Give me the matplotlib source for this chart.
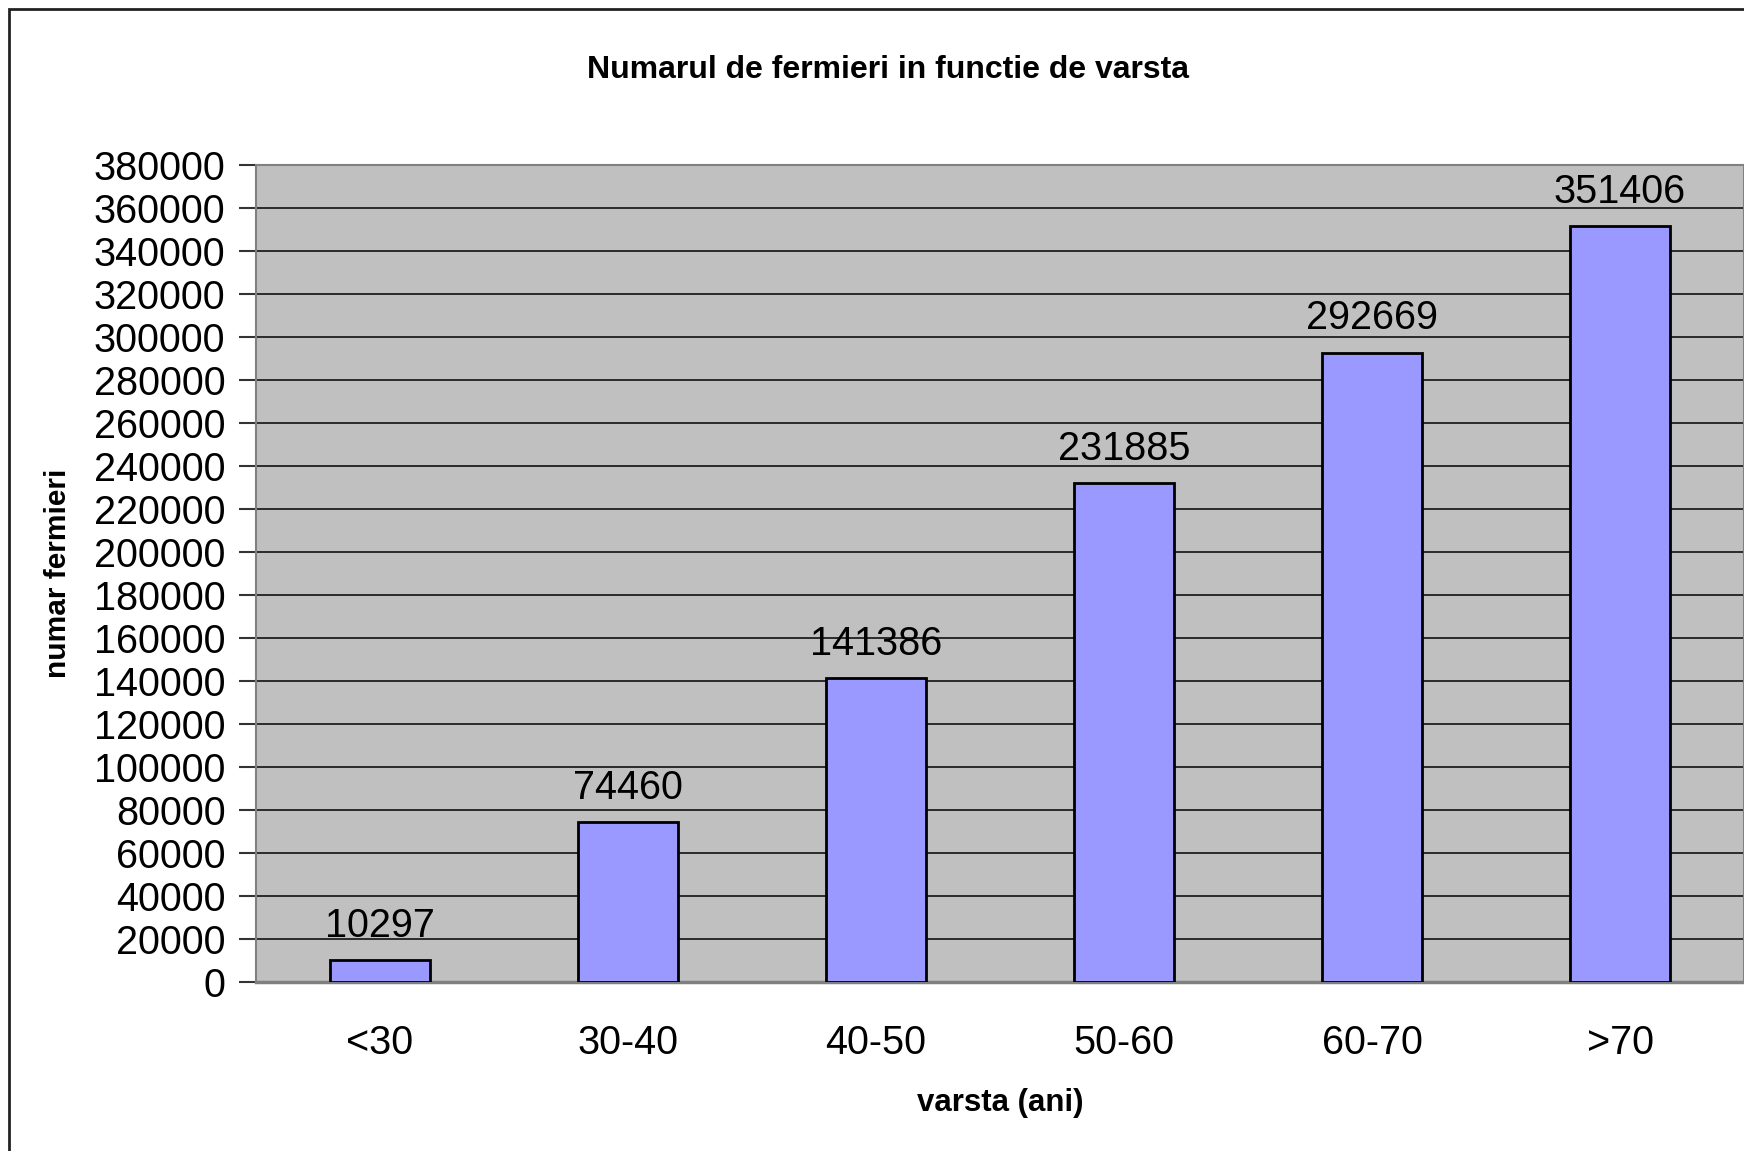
import matplotlib
matplotlib.use("Agg")
import matplotlib.pyplot as plt
from matplotlib.patches import Rectangle

# data
categories = ["<30", "30-40", "40-50", "50-60", "60-70", ">70"]
farmers = [10297, 74460, 141386, 231885, 292669, 351406]
y_ticks = list(range(0, 380001, 20000))

plt.rcParams["font.family"] = ["Liberation Sans", "DejaVu Sans"]

W, H = 1744, 1151
fig = plt.figure(figsize=(W / 100, H / 100), dpi=100)
ax = fig.add_axes([256 / W, 1 - 982 / H, (W - 256) / W, 817 / H])

ax.set_facecolor("#c0c0c0")
bars = ax.bar(range(len(categories)), farmers, width=0.4, color="#9999ff",
              edgecolor="black", linewidth=2, zorder=3)
ax.bar_label(bars, labels=[str(v) for v in farmers], padding=11, fontsize=28.5)

ax.set_xlim(-0.5, len(categories) - 0.5)
ax.set_ylim(0, 380000)
ax.set_yticks(y_ticks)
ax.set_yticklabels([str(t) for t in y_ticks])
ax.set_xticks(range(len(categories)))
ax.set_xticklabels(categories)
ax.tick_params(axis="y", labelsize=28.5, length=12, width=1.5, pad=10, color="#333333")
ax.tick_params(axis="x", labelsize=28.5, length=0, pad=30)
ax.yaxis.grid(True, color="#111111", linewidth=1.2, zorder=1)
ax.set_axisbelow(True)
for side in ["left", "top", "right"]:
    ax.spines[side].set_color("#808080")
    ax.spines[side].set_linewidth(1.5)
ax.spines["bottom"].set_color("#808080")
ax.spines["bottom"].set_linewidth(2.5)

ax.set_xlabel("varsta (ani)", fontsize=22.5, fontweight="bold", va="center")
ax.xaxis.set_label_coords(0.5, -(1103 - 982) / 817)
ax.set_ylabel("numar fermieri", fontsize=21.5, fontweight="bold", va="center", ha="center")
ax.yaxis.set_label_coords((57.5 - 256) / (W - 256), 0.5)

fig.text(888 / W, 1 - 70 / H, "Numarul de fermieri in functie de varsta",
         fontsize=23, fontweight="bold", ha="center", va="center")

# chart area frame, cut by the crop on the right and bottom
fig.patches.append(Rectangle((9 / W, -0.05), 1.1, 1.05 - 9 / H, transform=fig.transFigure,
                             fill=False, edgecolor="#222222", linewidth=2))

fig.savefig("out.png", dpi=100)
